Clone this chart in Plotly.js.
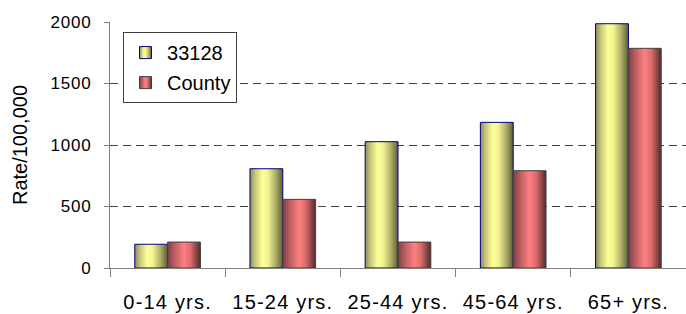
<!DOCTYPE html>
<html>
<head>
<meta charset="utf-8">
<script src="https://cdn.plot.ly/plotly-3.0.1.min.js"></script>
<style>
  html, body { margin: 0; padding: 0; background: #fff; }
  #chart { width: 686px; height: 314px; }
  .xtick text { letter-spacing: 1.2px; }
  .ytick text { letter-spacing: 0.8px; }
</style>
</head>
<body>
<div id="chart"></div>
<script>
const categories = ["0-14 yrs.", "15-24 yrs.", "25-44 yrs.", "45-64 yrs.", "65+ yrs."];
const zip33128 = [193, 807, 1027, 1184, 1986];
const county = [211, 558, 211, 791, 1786];
const yTickVals = [0, 500, 1000, 1500, 2000];

const font = "'Liberation Sans', Arial, sans-serif";

const traces = [
  {
    type: "bar", name: "33128", x: categories, y: zip33128,
    legendgroup: "a",
    marker: { color: "#e8e888", line: { color: "#000080", width: 1 } }
  },
  {
    type: "bar", name: "County", x: categories, y: county,
    legendgroup: "b",
    marker: { color: "#e07070", line: { color: "#404040", width: 1 } }
  }
];

const layout = {
  width: 686, height: 314,
  margin: { l: 110, r: 0, t: 22, b: 46 },
  paper_bgcolor: "#ffffff", plot_bgcolor: "#ffffff",
  font: { family: font, color: "#000000", size: 20 },
  barmode: "group", bargap: 0.43, bargroupgap: 0,
  showlegend: true,
  legend: {
    x: 0.0226, y: 0.959, xanchor: "left", yanchor: "top",
    bordercolor: "#404040", borderwidth: 1, bgcolor: "#ffffff",
    font: { family: font, size: 20, color: "#000" },
    traceorder: "grouped", tracegroupgap: 1,
    itemwidth: 33, entrywidth: 140, entrywidthmode: "pixels"
  },
  xaxis: {
    type: "category",
    tickson: "boundaries", ticks: "outside", ticklen: 8, tickcolor: "#808080",
    showline: true, linecolor: "#808080", linewidth: 1,
    tickfont: { family: font, size: 20, color: "#000" },
    ticklabelstandoff: 16,
    showgrid: false, zeroline: false
  },
  yaxis: {
    range: [0, 2000], tickvals: yTickVals,
    ticks: "outside", ticklen: 5, tickcolor: "#808080",
    showline: true, linecolor: "#808080", linewidth: 1,
    tickfont: { family: font, size: 17, color: "#000" },
    ticklabelstandoff: 9,
    showgrid: true, gridcolor: "#404040", griddash: "8px,5px", gridwidth: 1,
    zeroline: false, automargin: true,
    title: { text: "Rate/100,000", font: { family: font, size: 20, color: "#000" }, standoff: 17 }
  }
};

Plotly.newPlot("chart", traces, layout, { staticPlot: true, displayModeBar: false }).then(function (gd) {
  const svg = gd.querySelector(".main-svg");
  const ns = "http://www.w3.org/2000/svg";
  let defs = svg.querySelector("defs");
  if (!defs) { defs = document.createElementNS(ns, "defs"); svg.insertBefore(defs, svg.firstChild); }
  function grad(id, stops) {
    const g = document.createElementNS(ns, "linearGradient");
    g.setAttribute("id", id);
    g.setAttribute("x1", "0"); g.setAttribute("y1", "0");
    g.setAttribute("x2", "1"); g.setAttribute("y2", "0");
    stops.forEach(function (s) {
      const st = document.createElementNS(ns, "stop");
      st.setAttribute("offset", s[0]);
      st.setAttribute("stop-color", s[1]);
      g.appendChild(st);
    });
    defs.appendChild(g);
  }
  grad("gYel", [[0, "#8c8c58"], [0.15, "#c4c478"], [0.38, "#ffff99"], [0.55, "#f2f290"], [0.8, "#a8a865"], [1, "#5c5c38"]]);
  grad("gRed", [[0, "#7a4048"], [0.2, "#b85c60"], [0.5, "#ff8080"], [0.7, "#dc6a6a"], [0.88, "#8a4444"], [1, "#4c2c2c"]]);
  const ids = ["gYel", "gRed"];
  gd.querySelectorAll(".barlayer .trace.bars").forEach(function (t, i) {
    t.querySelectorAll("path").forEach(function (p) { p.style.fill = "url(#" + ids[i] + ")"; });
  });
  gd.querySelectorAll(".legend .traces").forEach(function (t, i) {
    t.querySelectorAll(".legendpoints path").forEach(function (p) { p.style.fill = "url(#" + ids[i] + ")"; });
  });
});
</script>
</body>
</html>
